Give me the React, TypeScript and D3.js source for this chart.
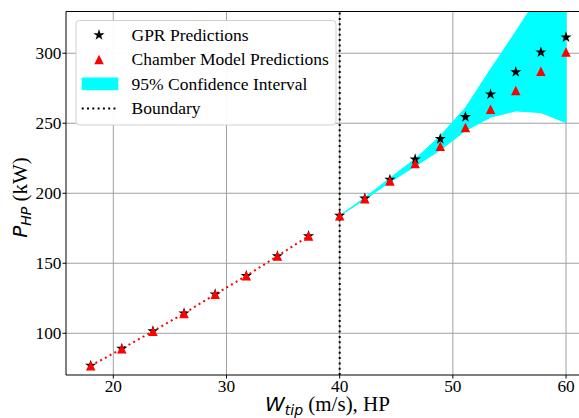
import React from "react";
import * as d3 from "d3";

// ---- data ----
const xLeft = [18, 20.75, 23.5, 26.25, 29, 31.75, 34.5, 37.25];
const gprLeft = [76.9, 89.0, 101.6, 114.3, 127.9, 141.1, 155.2, 169.5];
const chamberLeft = [76.8, 88.9, 101.5, 114.2, 127.8, 141.0, 155.1, 169.4];

const xRight = [40, 42.22, 44.44, 46.67, 48.89, 51.11, 53.33, 55.56, 57.78, 60];
const gprRight = [184, 196.3, 209.8, 224.3, 238.8, 254.5, 270.7, 286.6, 300.7, 311.4];
const chamberRight = [184, 196, 208.8, 221.2, 233.6, 247, 260, 273.3, 287.1, 300.9];
const ciLower = [184, 195.5, 208, 219.3, 230.9, 244.7, 254.3, 258.8, 257.6, 250.4];
const ciUpper = [184, 196.8, 210.8, 224.5, 241, 261, 288.5, 315.5, 343, 372];

const boundaryX = 40;
const xTicks = [20, 30, 40, 50, 60];
const yTicks = [100, 150, 200, 250, 300];
const legendLabels = ["GPR Predictions", "Chamber Model Predictions", "95% Confidence Interval", "Boundary"];

// ---- layout ----
const W = 579;
const H = 418;
const plotL = 66;
const plotR = 590.7;
const plotT = 11.5;
const plotB = 375;
const SERIF = '"Liberation Serif", "Times New Roman", Times, "DejaVu Serif", serif';
const SANS = '"DejaVu Sans", sans-serif';
const serifStyle = { fontFamily: SERIF };
const sansItalic = { fontFamily: SANS, fontStyle: "italic" as const };

function starPath(R: number) {
  const pts: string[] = [];
  const r = R * 0.381966;
  for (let i = 0; i < 10; i++) {
    const rad = i % 2 === 0 ? R : r;
    const a = (Math.PI / 5) * i - Math.PI / 2;
    pts.push(`${(rad * Math.cos(a)).toFixed(3)},${(rad * Math.sin(a)).toFixed(3)}`);
  }
  return "M" + pts.join("L") + "Z";
}
function triPath(s: number) {
  const h = s / 2;
  return `M0,${-h}L${-h},${h}L${h},${h}Z`;
}

export default function App() {
  const x = d3.scaleLinear().domain([15.82, 62.18]).range([plotL, plotR]);
  const y = d3.scaleLinear().domain([70.2, 329.8]).range([plotB, plotT]);

  const band = xRight.map((v, i) => ({ x: v, lo: ciLower[i], hi: ciUpper[i] }));
  const area = d3
    .area<{ x: number; lo: number; hi: number }>()
    .x((d) => x(d.x))
    .y0((d) => y(d.lo))
    .y1((d) => y(d.hi));
  const redLine = d3
    .line<number>()
    .x((_, i) => x(xLeft[i]))
    .y((d) => y(d));

  const star = starPath(5.9);
  const tri = triPath(9.5);

  const gprPts = [
    ...xLeft.map((v, i) => [v, gprLeft[i]]),
    ...xRight.map((v, i) => [v, gprRight[i]]),
  ];
  const chPts = [
    ...xLeft.map((v, i) => [v, chamberLeft[i]]),
    ...xRight.map((v, i) => [v, chamberRight[i]]),
  ];

  const legX = 76;
  const legY = 20.5;
  const rowY = [35, 59.5, 84, 108.5];

  return (
    <svg
      width={W}
      height={H}
      style={{ position: "absolute", left: 0, top: 0, background: "#fff" }}
    >
      <defs>
        <clipPath id="plotclip">
          <rect x={plotL} y={plotT} width={plotR - plotL} height={plotB - plotT} />
        </clipPath>
      </defs>
      <rect x={0} y={0} width={W} height={H} fill="#fff" />
      {/* grid */}
      <g stroke="#a0a0a0" strokeWidth={1}>
        {xTicks.map((t) => (
          <line key={"gx" + t} x1={x(t)} x2={x(t)} y1={plotT} y2={plotB} />
        ))}
        {yTicks.map((t) => (
          <line key={"gy" + t} x1={plotL} x2={plotR} y1={y(t)} y2={y(t)} />
        ))}
      </g>
      <g clipPath="url(#plotclip)">
        <path d={area(band) || ""} fill="#00ffff" stroke="#00ffff" strokeWidth={1} />
        <path
          d={redLine(chamberLeft) || ""}
          fill="none"
          stroke="#ff0000"
          strokeWidth={2}
          strokeDasharray="2,3.4"
        />
        <line
          x1={x(boundaryX)}
          x2={x(boundaryX)}
          y1={plotB}
          y2={plotT}
          stroke="#000"
          strokeWidth={2}
          strokeDasharray="2,3.3"
        />
        {gprPts.map((p, i) => (
          <path key={"s" + i} d={star} transform={`translate(${x(p[0])},${y(p[1])})`} fill="#000" />
        ))}
        {chPts.map((p, i) => (
          <path key={"t" + i} d={tri} transform={`translate(${x(p[0])},${y(p[1])})`} fill="#ff0000" />
        ))}
      </g>
      {/* spines */}
      <g stroke="#000" strokeWidth={1} fill="none">
        <line x1={plotL} x2={plotL} y1={plotT} y2={plotB} />
        <line x1={plotL} x2={plotR} y1={plotB} y2={plotB} />
        <line x1={plotL} x2={plotR} y1={plotT} y2={plotT} />
        <line x1={plotR} x2={plotR} y1={plotT} y2={plotB} />
      </g>
      {/* ticks */}
      <g fill="#000">
        {xTicks.map((t) => (
          <g key={"tx" + t}>
            <line x1={x(t)} x2={x(t)} y1={plotB} y2={plotB + 3.5} stroke="#000" strokeWidth={1} />
            <text x={x(t)} y={392} textAnchor="middle" fontSize={17.3} style={serifStyle}>
              {t}
            </text>
          </g>
        ))}
        {yTicks.map((t) => (
          <g key={"ty" + t}>
            <line x1={plotL - 3.5} x2={plotL} y1={y(t)} y2={y(t)} stroke="#000" strokeWidth={1} />
            <text x={61.5} y={y(t) + 6.2} textAnchor="end" fontSize={17.3} style={serifStyle}>
              {t}
            </text>
          </g>
        ))}
      </g>
      {/* axis labels */}
      <text x={327.5} y={410.5} textAnchor="middle" fontSize={20} fill="#000" style={serifStyle}>
        <tspan style={sansItalic}>W</tspan>
        <tspan style={sansItalic} fontSize={14} dy={4}>tip</tspan>
        <tspan style={serifStyle} fontSize={21} dy={-4}>{" (m/s), HP"}</tspan>
      </text>
      <text
        transform={`translate(26.5,197.5) rotate(-90)`}
        textAnchor="middle"
        fontSize={20}
        fill="#000"
        style={serifStyle}
      >
        <tspan style={sansItalic}>P</tspan>
        <tspan style={sansItalic} fontSize={14} dy={4}>HP</tspan>
        <tspan style={serifStyle} fontSize={21} dy={-4}>{" (kW)"}</tspan>
      </text>
      {/* legend */}
      <g>
        <rect
          x={legX}
          y={legY}
          width={260}
          height={104.5}
          rx={3.5}
          fill="#fff"
          fillOpacity={0.95}
          stroke="#d0d0d0"
          strokeWidth={1}
        />
        <path d={star} transform={`translate(99,${rowY[0]})`} fill="#000" />
        <path d={tri} transform={`translate(99,${rowY[1]})`} fill="#ff0000" />
        <rect x={81.7} y={rowY[2] - 6.5} width={36.6} height={12.7} fill="#00ffff" />
        <line
          x1={81.7}
          x2={118.3}
          y1={rowY[3]}
          y2={rowY[3]}
          stroke="#000"
          strokeWidth={2}
          strokeDasharray="2,3.3"
        />
        {legendLabels.map((l, i) => (
          <text key={l} x={131.5} y={rowY[i] + 5.6} fontSize={17.5} fill="#000" style={serifStyle}>
            {l}
          </text>
        ))}
      </g>
    </svg>
  );
}
